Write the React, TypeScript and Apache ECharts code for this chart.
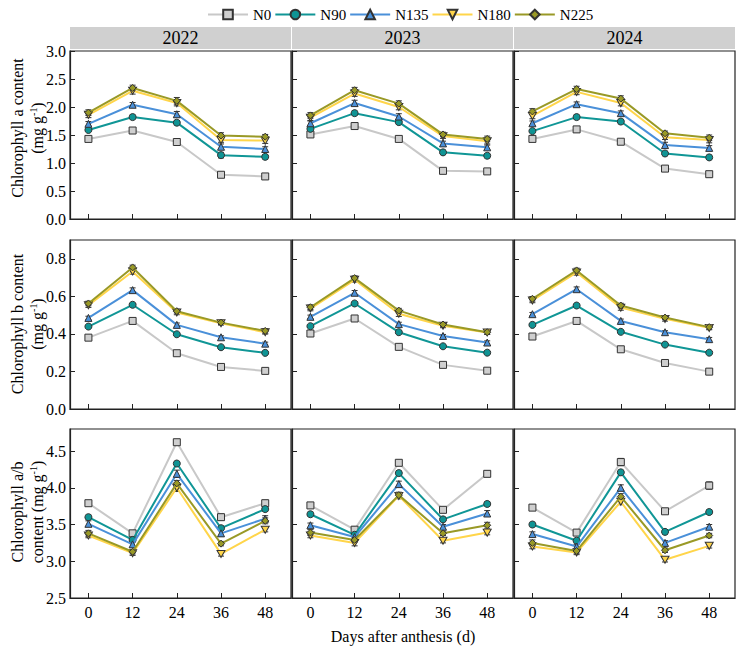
import React, { useEffect, useRef } from "react";
import * as echarts from "echarts";

const DAYS = [0, 12, 24, 36, 48];
const TREATMENTS = ["N0", "N90", "N135", "N180", "N225"];
const YEARS = ["2022", "2023", "2024"];

// Chlorophyll a (mg g-1), rows: N0, N90, N135, N180, N225
const chlA2022 = [
  [1.43, 1.58, 1.375, 0.79, 0.76],
  [1.59, 1.82, 1.72, 1.14, 1.11],
  [1.70, 2.04, 1.87, 1.29, 1.25],
  [1.86, 2.29, 2.07, 1.41, 1.40],
  [1.90, 2.34, 2.11, 1.49, 1.47],
];
const chlA2023 = [
  [1.51, 1.66, 1.43, 0.86, 0.85],
  [1.61, 1.89, 1.73, 1.19, 1.13],
  [1.71, 2.07, 1.83, 1.35, 1.28],
  [1.81, 2.24, 2.00, 1.48, 1.39],
  [1.85, 2.30, 2.06, 1.51, 1.43],
];
const chlA2024 = [
  [1.43, 1.60, 1.38, 0.90, 0.80],
  [1.57, 1.82, 1.74, 1.17, 1.10],
  [1.71, 2.05, 1.89, 1.32, 1.27],
  [1.84, 2.27, 2.07, 1.46, 1.41],
  [1.92, 2.32, 2.15, 1.53, 1.45],
];
const errA2022 = [
  [0.04, 0.05, 0.03, 0.04, 0.05],
  [0.03, 0.04, 0.04, 0.05, 0.04],
  [0.04, 0.04, 0.05, 0.05, 0.04],
  [0.05, 0.06, 0.05, 0.04, 0.05],
  [0.05, 0.05, 0.06, 0.05, 0.04],
];
const errA2023 = [
  [0.03, 0.04, 0.03, 0.03, 0.04],
  [0.03, 0.04, 0.04, 0.04, 0.04],
  [0.04, 0.05, 0.05, 0.04, 0.04],
  [0.05, 0.05, 0.05, 0.04, 0.05],
  [0.05, 0.05, 0.05, 0.04, 0.05],
];
const errA2024 = [
  [0.04, 0.05, 0.03, 0.04, 0.05],
  [0.03, 0.04, 0.04, 0.04, 0.04],
  [0.04, 0.04, 0.04, 0.05, 0.04],
  [0.05, 0.05, 0.05, 0.04, 0.05],
  [0.05, 0.05, 0.05, 0.04, 0.05],
];

// Chlorophyll b (mg g-1)
const chlB2022 = [
  [0.380, 0.469, 0.297, 0.224, 0.203],
  [0.439, 0.555, 0.398, 0.329, 0.299],
  [0.485, 0.633, 0.448, 0.382, 0.348],
  [0.553, 0.732, 0.514, 0.457, 0.409],
  [0.562, 0.754, 0.521, 0.460, 0.416],
];
const chlB2023 = [
  [0.402, 0.482, 0.331, 0.235, 0.204],
  [0.441, 0.562, 0.409, 0.334, 0.300],
  [0.491, 0.619, 0.452, 0.389, 0.354],
  [0.535, 0.688, 0.507, 0.443, 0.407],
  [0.542, 0.697, 0.524, 0.450, 0.409],
];
const chlB2024 = [
  [0.386, 0.469, 0.318, 0.245, 0.199],
  [0.448, 0.551, 0.411, 0.343, 0.300],
  [0.505, 0.638, 0.469, 0.409, 0.372],
  [0.578, 0.727, 0.540, 0.480, 0.432],
  [0.587, 0.738, 0.551, 0.487, 0.436],
];
const errB2022 = [
  [0.010, 0.014, 0.012, 0.014, 0.012],
  [0.008, 0.010, 0.008, 0.008, 0.008],
  [0.009, 0.012, 0.010, 0.008, 0.008],
  [0.012, 0.014, 0.012, 0.010, 0.010],
  [0.012, 0.012, 0.010, 0.010, 0.012],
];
const errB2023 = [
  [0.010, 0.012, 0.010, 0.010, 0.010],
  [0.008, 0.010, 0.008, 0.008, 0.008],
  [0.009, 0.012, 0.010, 0.008, 0.009],
  [0.012, 0.012, 0.014, 0.010, 0.010],
  [0.012, 0.012, 0.012, 0.010, 0.010],
];
const errB2024 = [
  [0.010, 0.012, 0.010, 0.012, 0.010],
  [0.008, 0.010, 0.008, 0.008, 0.008],
  [0.009, 0.012, 0.010, 0.008, 0.009],
  [0.012, 0.014, 0.014, 0.012, 0.010],
  [0.012, 0.012, 0.012, 0.010, 0.010],
];

// Chlorophyll a/b
const ratio2022 = [
  [3.79, 3.38, 4.62, 3.60, 3.79],
  [3.60, 3.29, 4.33, 3.45, 3.71],
  [3.51, 3.23, 4.19, 3.38, 3.58],
  [3.35, 3.11, 4.00, 3.10, 3.43],
  [3.38, 3.13, 4.06, 3.24, 3.55],
];
const ratio2023 = [
  [3.76, 3.43, 4.34, 3.70, 4.19],
  [3.64, 3.36, 4.20, 3.57, 3.78],
  [3.49, 3.33, 4.05, 3.47, 3.65],
  [3.35, 3.25, 3.89, 3.28, 3.39],
  [3.39, 3.29, 3.90, 3.38, 3.49],
];
const ratio2024 = [
  [3.73, 3.39, 4.35, 3.68, 4.03],
  [3.50, 3.28, 4.21, 3.40, 3.67],
  [3.37, 3.20, 4.00, 3.25, 3.47],
  [3.20, 3.12, 3.81, 3.02, 3.21],
  [3.25, 3.14, 3.88, 3.15, 3.35],
];
const errR2022 = [
  [0.03, 0.03, 0.03, 0.04, 0.04],
  [0.03, 0.03, 0.03, 0.03, 0.03],
  [0.04, 0.04, 0.05, 0.04, 0.04],
  [0.03, 0.03, 0.05, 0.03, 0.03],
  [0.04, 0.03, 0.04, 0.03, 0.04],
];
const errR2023 = [
  [0.03, 0.04, 0.03, 0.03, 0.04],
  [0.03, 0.03, 0.03, 0.03, 0.03],
  [0.03, 0.03, 0.04, 0.03, 0.04],
  [0.03, 0.04, 0.04, 0.03, 0.03],
  [0.04, 0.03, 0.04, 0.03, 0.04],
];
const errR2024 = [
  [0.03, 0.03, 0.05, 0.03, 0.05],
  [0.03, 0.03, 0.03, 0.03, 0.03],
  [0.03, 0.03, 0.04, 0.03, 0.03],
  [0.03, 0.03, 0.04, 0.03, 0.03],
  [0.04, 0.03, 0.04, 0.03, 0.03],
];

const Y_TICKS_A = [0, 0.5, 1.0, 1.5, 2.0, 2.5, 3.0];
const Y_TICKS_B = [0, 0.2, 0.4, 0.6, 0.8];
const Y_TICKS_R = [2.5, 3.0, 3.5, 4.0, 4.5];

const FONT = "Liberation Serif";

const LINE_COLORS = ["#c8c8c8", "#109696", "#4a90d9", "#ffd54a", "#999926"];
const FILL_COLORS = ["#cfcfcf", "#0f9494", "#4a90d9", "#ffd54a", "#999926"];
const SYMBOLS = [
  "rect",
  "circle",
  "triangle",
  "path://M0,0 L10,0 L5,9 Z",
  "diamond",
];

export default function App() {
  const ref = useRef<HTMLDivElement>(null);

  useEffect(() => {
    if (!ref.current) return;
    const chart = echarts.init(ref.current, undefined, { renderer: "svg" });

    const rows = [
      { means: [chlA2022, chlA2023, chlA2024], errs: [errA2022, errA2023, errA2024], min: 0, max: 3.0, ticks: Y_TICKS_A },
      { means: [chlB2022, chlB2023, chlB2024], errs: [errB2022, errB2023, errB2024], min: 0, max: 0.9, ticks: Y_TICKS_B },
      { means: [ratio2022, ratio2023, ratio2024], errs: [errR2022, errR2023, errR2024], min: 2.5, max: 4.8, ticks: Y_TICKS_R },
    ];
    const colLeft = [70, 292, 514];
    const colW = 221;
    const rowTop = [51, 240, 429];
    const rowH = [168, 169, 169];

    const grids: any[] = [];
    const xAxes: any[] = [];
    const yAxes: any[] = [];
    const series: any[] = [];
    const graphics: any[] = [];

    const labelStyle = {
      fontSize: 16,
      fontFamily: FONT,
      fontWeight: "normal",
      color: "#000",
    };

    rows.forEach((row, r) => {
      YEARS.forEach((year, c) => {
        const idx = r * 3 + c;
        grids.push({
          left: colLeft[c],
          top: rowTop[r],
          width: colW,
          height: rowH[r],
          show: true,
          borderColor: "#222",
          borderWidth: 1.2,
          backgroundColor: "transparent",
        });
        xAxes.push({
          type: "value",
          gridIndex: idx,
          min: -5,
          max: 55,
          splitLine: { show: false },
          axisLine: { show: true, onZero: false, lineStyle: { color: "#222", width: 1.2 } },
          axisTick: { show: true, inside: true, length: 5, customValues: DAYS, lineStyle: { color: "#222" } },
          axisLabel: {
            show: r === 2,
            customValues: DAYS,
            margin: 6,
            ...labelStyle,
          },
        });
        yAxes.push({
          type: "value",
          gridIndex: idx,
          min: row.min,
          max: row.max,
          splitLine: { show: false },
          axisLine: { show: true, onZero: false, lineStyle: { color: "#222", width: 1.2 } },
          axisTick: { show: true, inside: true, length: 5, customValues: row.ticks, lineStyle: { color: "#222" } },
          axisLabel: {
            show: c === 0,
            customValues: row.ticks,
            formatter: (v: number) => v.toFixed(1),
            margin: 4,
            ...labelStyle,
          },
        });

        const means = row.means[c];
        const errs = row.errs[c];
        TREATMENTS.forEach((name, s) => {
          series.push({
            type: "custom",
            name: name + " error",
            xAxisIndex: idx,
            yAxisIndex: idx,
            z: 1,
            silent: true,
            encode: { x: 0, y: 1 },
            data: DAYS.map((d, i) => [d, means[s][i], errs[s][i]]),
            renderItem: (params: any, api: any) => {
              const x = api.value(0);
              const y = api.value(1);
              const e = api.value(2);
              const p1 = api.coord([x, y + e]);
              const p2 = api.coord([x, y - e]);
              const w = 3;
              const st = { stroke: "#333", lineWidth: 1 };
              return {
                type: "group",
                children: [
                  { type: "line", shape: { x1: p1[0], y1: p1[1], x2: p2[0], y2: p2[1] }, style: st },
                  { type: "line", shape: { x1: p1[0] - w, y1: p1[1], x2: p1[0] + w, y2: p1[1] }, style: st },
                  { type: "line", shape: { x1: p2[0] - w, y1: p2[1], x2: p2[0] + w, y2: p2[1] }, style: st },
                ],
              };
            },
          });
        });
        TREATMENTS.forEach((name, s) => {
          series.push({
            type: "line",
            name,
            xAxisIndex: idx,
            yAxisIndex: idx,
            z: 2 + s * 0.1,
            data: DAYS.map((d, i) => [d, means[s][i]]),
            symbol: SYMBOLS[s],
            symbolSize: s === 3 ? [8, 7] : 7,
            showSymbol: true,
            lineStyle: { color: LINE_COLORS[s], width: 2 },
            itemStyle: { color: FILL_COLORS[s], borderColor: "#333", borderWidth: 1 },
          });
        });

        if (r === 0) {
          graphics.push({
            type: "rect",
            shape: { x: colLeft[c], y: 27, width: colW, height: 22 },
            style: { fill: "#d0d0d0" },
          });
          graphics.push({
            type: "text",
            x: colLeft[c] + colW / 2,
            y: 38,
            style: {
              text: year,
              fontSize: 18,
              fontFamily: FONT,
              fill: "#000",
              textAlign: "center",
              textVerticalAlign: "middle",
            },
          });
        }
      });
    });

    const titleLines = [
      ["Chlorophyll a content", "(mg g{sup|-1})"],
      ["Chlorophyll b content", "(mg g{sup|-1})"],
      ["Chlorophyll a/b", "content (mg g{sup|-1})"],
    ];
    const titleCenters = [128, 324, 512];
    titleLines.forEach((lines, r) => {
      lines.forEach((txt, k) => {
        graphics.push({
          type: "text",
          x: k === 0 ? 17 : 37,
          y: titleCenters[r],
          rotation: Math.PI / 2,
          style: {
            text: txt,
            fontSize: 16,
            fontFamily: FONT,
            fill: "#000",
            textAlign: "center",
            textVerticalAlign: "middle",
            rich: {
              sup: { fontSize: 10, fontFamily: FONT, verticalAlign: "top", lineHeight: 18, fill: "#000" },
            },
          },
        });
      });
    });

    graphics.push({
      type: "text",
      x: 403,
      y: 636,
      style: {
        text: "Days after anthesis (d)",
        fontSize: 16,
        fontFamily: FONT,
        fill: "#000",
        textAlign: "center",
        textVerticalAlign: "middle",
      },
    });

    chart.setOption({
      animation: false,
      backgroundColor: "#fff",
      textStyle: { fontFamily: FONT, fontSize: 16, color: "#000" },
      legend: {
        data: TREATMENTS,
        top: 2,
        left: 202,
        itemWidth: 40,
        itemHeight: 12,
        itemGap: 3,
        textStyle: { fontSize: 15, fontFamily: FONT, color: "#000" },
      },
      grid: grids,
      xAxis: xAxes,
      yAxis: yAxes,
      series,
      graphic: graphics,
    });

    return () => chart.dispose();
  }, []);

  return (
    <div
      ref={ref}
      style={{ position: "absolute", left: 0, top: 0, width: 736, height: 654 }}
    />
  );
}
